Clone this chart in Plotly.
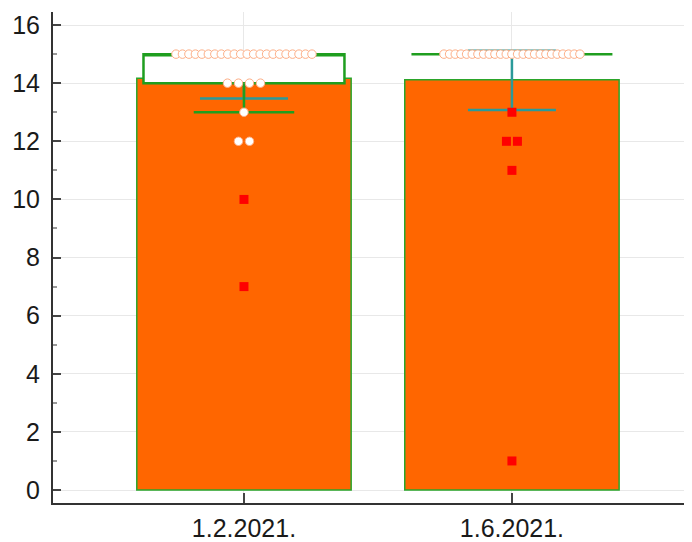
import plotly.graph_objects as go

# ---- data ----
categories = ["1.2.2021.", "1.6.2021."]
means = [14.17, 14.12]
ci_low = [13.47, 13.08]
ci_high = [14.84, 15.12]

q1 = [14, 15]
median = [15, 15]
q3 = [15, 15]
whisker_low = [13, 15]
whisker_high = [15, 15]

g1_points = [15] * 22 + [14] * 4 + [13] + [12, 12]
g1_outliers = [10, 7]
g2_points = [15] * 25
g2_outliers = [13, 12, 12, 11, 1]

# ---- styles ----
ORANGE = "#FF6600"
GREEN = "#1f9e1f"
TEAL = "#2a9a9a"
PX_PER_UNIT = 268.0


def swarm(values, center):
    xs, ys = [], []
    uniq = sorted(set(values), reverse=True)
    for v in uniq:
        n = values.count(v)
        if n == 1:
            sp = 0
        else:
            sp = min(11.0, 136.0 / (n - 1)) / PX_PER_UNIT
        for i in range(n):
            xs.append(center + (i - (n - 1) / 2) * sp)
            ys.append(v)
    return xs, ys


fig = go.Figure()

fig.add_trace(go.Bar(
    x=[0, 1], y=means, width=0.8,
    marker=dict(color=ORANGE, line=dict(color="#2aa52a", width=1.5)),
    error_y=dict(type="data", symmetric=False,
                 array=[h - m for h, m in zip(ci_high, means)],
                 arrayminus=[m - l for m, l in zip(means, ci_low)],
                 color=TEAL, thickness=2.5, width=44),
    showlegend=False, hoverinfo="skip",
))

fig.add_trace(go.Box(
    x=[0, 1], q1=q1, median=median, q3=q3,
    lowerfence=whisker_low, upperfence=whisker_high,
    width=0.75, whiskerwidth=0.5, fillcolor="white",
    line=dict(color=GREEN, width=2.5), boxpoints=False,
    showlegend=False, hoverinfo="skip",
))

cx, cy = [], []
for c, pts in ((0, g1_points), (1, g2_points)):
    xs, ys = swarm(pts, c)
    cx += xs
    cy += ys
fig.add_trace(go.Scatter(
    x=cx, y=cy, mode="markers",
    marker=dict(symbol="circle", size=8.5, color="white",
                line=dict(color="#FDAE86", width=1)),
    showlegend=False, hoverinfo="skip",
))

sx, sy = [], []
for c, pts in ((0, g1_outliers), (1, g2_outliers)):
    xs, ys = swarm(pts, c)
    sx += xs
    sy += ys
fig.add_trace(go.Scatter(
    x=sx, y=sy, mode="markers",
    marker=dict(symbol="square", size=9, color="#FF0000", line=dict(width=0)),
    showlegend=False, hoverinfo="skip",
))

# page body adds an 8px margin, so the figure is sized/offset to compensate
fig.update_layout(
    width=684, height=534,
    margin=dict(l=45, r=0, t=4, b=39),
    plot_bgcolor="white", paper_bgcolor="white",
    barmode="overlay", boxmode="overlay",
    font=dict(family="Liberation Sans, Arial, sans-serif", size=25, color="#1a1a1a"),
    xaxis=dict(range=[-0.7127, 1.672], tickvals=[0, 1], ticktext=categories,
               ticks="inside", ticklen=10, tickwidth=1.5, tickcolor="#444",
               showline=True, linecolor="#333", linewidth=2,
               showgrid=True, gridcolor="#e8e8e8", zeroline=False,
               automargin=False, ticklabelstandoff=2),
    yaxis=dict(range=[-0.447, 16.45], dtick=2, tick0=0,
               ticks="inside", ticklen=8, tickwidth=1.5, tickcolor="#444",
               minor=dict(ticks="inside", ticklen=4, dtick=1, tickcolor="#999", showgrid=False),
               showline=True, linecolor="#333", linewidth=2,
               showgrid=True, gridcolor="#e8e8e8", zeroline=False,
               automargin=False, ticklabelstandoff=6),
)

fig.write_html("out.html")
